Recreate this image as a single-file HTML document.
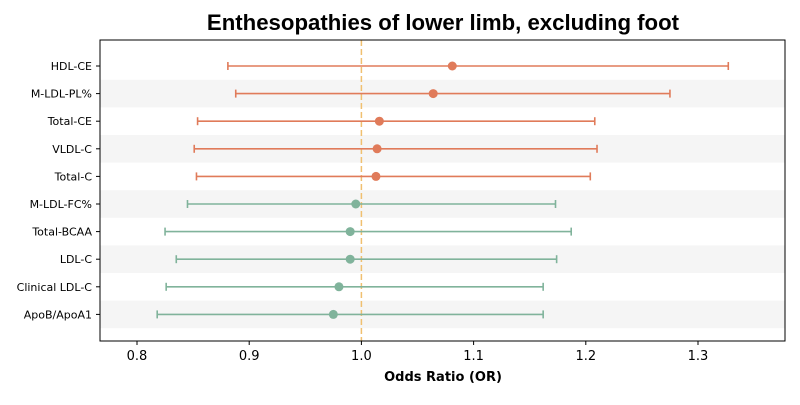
<!DOCTYPE html>
<html><head><meta charset="utf-8"><style>
body{margin:0;background:#fff;}
svg text{font-family:"DejaVu Sans","Liberation Sans",sans-serif;}
</style></head><body>
<svg id="chart" width="800" height="400" xmlns="http://www.w3.org/2000/svg">
<text x="443" y="30" text-anchor="middle" font-size="22.2" font-weight="bold" fill="#000" style="font-family:'Liberation Sans',Arial,sans-serif">Enthesopathies of lower limb, excluding foot</text>
<g id="bands"></g><g id="grid"></g><g id="marks"></g><g id="axes"></g>
<text x="443" y="381" text-anchor="middle" font-size="13" font-weight="bold">Odds Ratio (OR)</text>
</svg>
<script>
const labels=["HDL-CE","M-LDL-PL%","Total-CE","VLDL-C","Total-C","M-LDL-FC%","Total-BCAA","LDL-C","Clinical LDL-C","ApoB/ApoA1"];
const orValues=[1.081,1.064,1.016,1.014,1.013,0.995,0.990,0.990,0.980,0.975];
const ciLow=[0.881,0.888,0.854,0.851,0.853,0.845,0.825,0.835,0.826,0.818];
const ciHigh=[1.327,1.275,1.208,1.210,1.204,1.173,1.187,1.174,1.162,1.162];
const groups=["pos","pos","pos","pos","pos","neg","neg","neg","neg","neg"];
const xTicks=[0.8,0.9,1.0,1.1,1.2,1.3];
const ns="http://www.w3.org/2000/svg";
const L=100,R=785,T=40,B=341;
const x=v=>137+(v-0.8)*1122;
const y=i=>66+i*27.6;
function mk(tag,attrs,parent){const e=document.createElementNS(ns,tag);for(const k in attrs)e.setAttribute(k,attrs[k]);document.getElementById(parent).appendChild(e);return e;}
labels.forEach((lab,i)=>{
  if(i%2===1){const b=mk('rect',{x:L,y:y(i)-13.8,width:R-L,height:27.6,fill:'#f5f5f5'},'bands');
  
  }
  const c=groups[i]==='pos'?'#e07b5a':'#80b39b';
  const g=document.createElementNS(ns,'g');document.getElementById('marks').appendChild(g);
  
  
  const add=(t,a)=>{const e=document.createElementNS(ns,t);for(const k in a)e.setAttribute(k,a[k]);g.appendChild(e);return e;};
  add('line',{x1:x(ciLow[i]),x2:x(ciHigh[i]),y1:y(i),y2:y(i),stroke:c,'stroke-width':1.6});
  add('line',{x1:x(ciLow[i]),x2:x(ciLow[i]),y1:y(i)-4,y2:y(i)+4,stroke:c,'stroke-width':1.6});
  add('line',{x1:x(ciHigh[i]),x2:x(ciHigh[i]),y1:y(i)-4,y2:y(i)+4,stroke:c,'stroke-width':1.6});
  add('circle',{cx:x(orValues[i]),cy:y(i),r:4.5,fill:c});
  const t=mk('text',{x:L-8,y:y(i)+4,'text-anchor':'end','font-size':11,fill:'#000'},'axes');t.textContent=lab;
  
  
  mk('line',{x1:L-4,x2:L,y1:y(i),y2:y(i),stroke:'#000'},'axes');
});
const ref=mk('line',{x1:x(1),x2:x(1),y1:T,y2:B,stroke:'#f0c070','stroke-width':1.5,'stroke-dasharray':'6,3'},'grid');


xTicks.forEach(v=>{
  mk('line',{x1:x(v),x2:x(v),y1:B,y2:B+4,stroke:'#000'},'axes');
  const t=mk('text',{x:x(v),y:B+19,'text-anchor':'middle','font-size':13},'axes');t.textContent=v.toFixed(1);
  
  
});
const fr=mk('rect',{x:L,y:T,width:R-L,height:B-T,fill:'none',stroke:'#000','stroke-width':1},'axes');


</script>
</body></html>
